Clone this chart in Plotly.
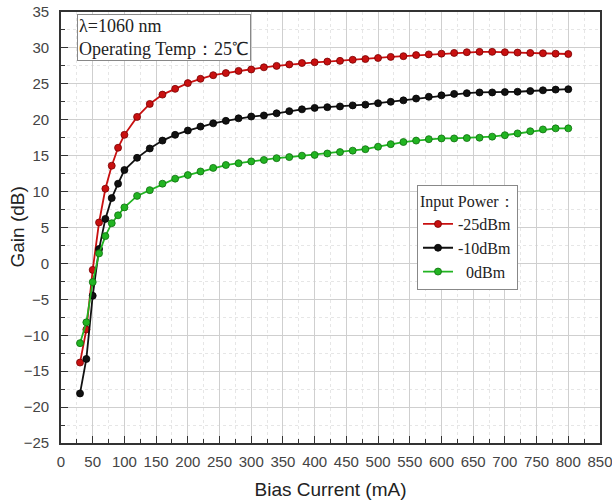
import plotly.graph_objects as go

current = [30, 40, 50, 60, 70, 80, 90, 100, 120, 140, 160, 180, 200, 220, 240, 260, 280, 300,
           320, 340, 360, 380, 400, 420, 440, 460, 480, 500, 520, 540, 560, 580, 600, 620,
           640, 660, 680, 700, 720, 740, 760, 780, 800]

gain_m25 = [-13.8, -9.2, -0.9, 5.7, 10.4, 13.6, 16.1, 17.9, 20.4, 22.2, 23.5, 24.3, 25.1, 25.7,
            26.2, 26.5, 26.8, 27.0, 27.3, 27.5, 27.7, 27.9, 28.0, 28.1, 28.2, 28.35, 28.45, 28.6,
            28.75, 28.85, 29.0, 29.1, 29.2, 29.3, 29.4, 29.45, 29.45, 29.4, 29.35, 29.3, 29.25,
            29.2, 29.15]

gain_m10 = [-18.1, -13.3, -4.5, 2.0, 6.2, 9.1, 11.1, 13.0, 14.7, 16.0, 17.1, 17.9, 18.5, 19.05,
            19.5, 19.85, 20.2, 20.45, 20.6, 20.9, 21.2, 21.45, 21.65, 21.75, 21.85, 22.0, 22.1,
            22.3, 22.5, 22.7, 22.95, 23.2, 23.4, 23.6, 23.7, 23.8, 23.8, 23.85, 23.9, 24.0, 24.1,
            24.2, 24.25]

gain_0 = [-11.1, -8.2, -2.6, 1.4, 3.8, 5.6, 6.7, 7.8, 9.4, 10.2, 11.1, 11.8, 12.3, 12.8, 13.3,
          13.7, 13.95, 14.2, 14.4, 14.65, 14.8, 15.0, 15.1, 15.3, 15.5, 15.7, 15.9, 16.25, 16.6,
          16.9, 17.1, 17.3, 17.4, 17.4, 17.45, 17.5, 17.65, 17.85, 18.1, 18.4, 18.65, 18.8, 18.8]

series_names = ["-25dBm", "-10dBm", "\u20020dBm"]
series_colors = ["#C81010", "#111111", "#22B422"]
series_edges = ["#7A0000", "#000000", "#0E6E0E"]

SANS = "Liberation Sans, Arial"
SERIF = "Liberation Serif, Times New Roman"

fig = go.Figure()
for name, ys, col, edge in zip(series_names, [gain_m25, gain_m10, gain_0], series_colors, series_edges):
    fig.add_trace(go.Scatter(
        x=current, y=ys, name=name, mode="lines+markers",
        line=dict(color=col, width=1.8),
        marker=dict(symbol="circle", size=7, color=col, line=dict(color=edge, width=0.8)),
    ))

axis_common = dict(
    showline=True, linecolor="#333333", linewidth=1.6, mirror=True,
    ticks="inside", tickcolor="#333333", tickwidth=1.3, ticklen=7,
    showgrid=True, gridcolor="#CFCFCF", gridwidth=1,
    zeroline=False, automargin=False, ticklabeloverflow="allow",
    tickfont=dict(family=SANS, size=15, color="#444444"),
    minor=dict(ticks="inside", ticklen=4, tickcolor="#333333", tickwidth=1.2,
               showgrid=True, gridcolor="#E6E6E6", griddash="dot", gridwidth=1),
)

fig.update_xaxes(
    range=[0, 850], dtick=50, tick0=0,
    title=dict(text="Bias Current (mA)", font=dict(family=SANS, size=19, color="#222222"), standoff=14),
    ticklabelstandoff=4,
    **axis_common,
)
fig.update_xaxes(minor_dtick=25)
fig.update_yaxes(
    range=[-25, 35], dtick=5, tick0=0,
    ticklabelstandoff=7,
    **axis_common,
)
fig.update_yaxes(minor_dtick=2.5)

# y-axis title placed as rotated text
fig.add_annotation(
    xref="paper", yref="paper", x=-0.0816, y=0.5, xanchor="center", yanchor="middle",
    text="Gain (dB)", textangle=-90, showarrow=False,
    font=dict(family=SANS, size=19, color="#222222"),
)

fig.add_annotation(
    xref="paper", yref="paper", x=0.03, y=0.996, xanchor="left", yanchor="top",
    text="λ=1060 nm<br>Operating Temp：25℃", align="left", showarrow=False,
    font=dict(family=SERIF, size=18, color="#222222"),
    bgcolor="white", bordercolor="#888888", borderwidth=1, borderpad=1,
)

fig.update_layout(
    width=612, height=504,
    margin=dict(l=61, r=12, t=12, b=61),
    paper_bgcolor="white", plot_bgcolor="white",
    showlegend=True,
    legend=dict(
        title=dict(text="Input Power：", font=dict(family=SERIF, size=16, color="#222222")),
        font=dict(family=SERIF, size=16, color="#222222"),
        x=0.6605, y=0.598, xanchor="left", yanchor="top",
        bgcolor="white", bordercolor="#888888", borderwidth=1,
        tracegroupgap=0, itemwidth=30,
    ),
)

fig.write_html("out.html", config={"displayModeBar": False},
               post_script="document.body.style.margin='0';")
